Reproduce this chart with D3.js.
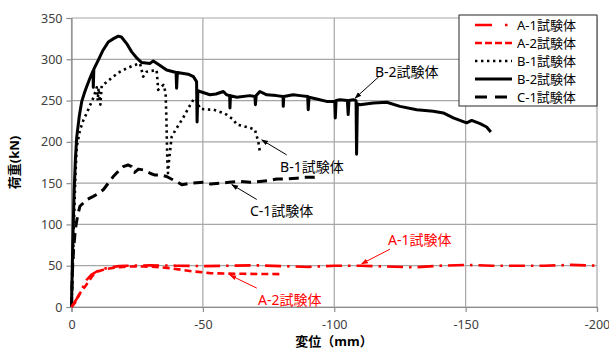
<!DOCTYPE html>
<html>
<head>
<meta charset="utf-8">
<script src="https://cdn.jsdelivr.net/npm/d3@7"></script>
<style>
body { margin:0; background:#fff; }
svg { font-family: "Noto Sans", "Noto Sans CJK JP", sans-serif; }
</style>
</head>
<body>
<svg id="chart" width="609" height="354"></svg>
<script>
// 荷重-変位 data [変位 mm, 荷重 kN]
var seriesA1 = [[0,0],[-1,5],[-2,10],[-3.2,17],[-4.5,25],[-5.8,33],[-7.5,39],[-9.6,43],[-12,46],[-14.7,48],[-18,49.5],[-21,50],[-30,50.5],[-40,50],[-50,49.5],[-60,50],[-70,50.5],[-80,49.5],[-90,48.5],[-100,50],[-110,50],[-120,49],[-130,48],[-140,50],[-150,51],[-160,50],[-170,50],[-180,50],[-190,51],[-200,50]];
var seriesA2 = [[0,0],[-1.3,5],[-2.5,12],[-3.5,18],[-5,24],[-6.5,31],[-8.3,39],[-10,43],[-12.1,45],[-15,47],[-18.5,48.3],[-22,49],[-27.3,49],[-32,48.5],[-37.5,47],[-42,45],[-46.4,43],[-50,42],[-52.7,41],[-58,40.5],[-65.4,40.2],[-72,40],[-80.6,39.8]];
var seriesB1 = [[0,0],[-0.5,50],[-1,110],[-1.5,160],[-2,194],[-3.2,214],[-4.5,226],[-5.8,235],[-7.7,249],[-8.5,255],[-9.6,266],[-10,250],[-10.3,265],[-11,245],[-11.5,268],[-12.1,269],[-14,274],[-15.9,279],[-18.5,285],[-21,289],[-24,293],[-26.1,295],[-27.3,279],[-28.6,285],[-30.5,286],[-32.4,287],[-33,263],[-34,266],[-35,269],[-35.8,260],[-36.1,230],[-36.3,200],[-36.5,175],[-36.7,162],[-37.2,180],[-38.1,206],[-39.5,214],[-41.3,223],[-43,232],[-44.5,241],[-46.4,251],[-47.5,252],[-48.9,240],[-52.7,239],[-54,239],[-57.8,235],[-59,233],[-61.6,227],[-62.9,221],[-65.4,219],[-66.7,218],[-69.8,215],[-71.1,200],[-71.7,188]];
var seriesB2 = [[0,0],[-0.5,80],[-1,140],[-1.5,180],[-2,206],[-3,232],[-3.9,249],[-5,260],[-5.8,267],[-7,277],[-8.2,286],[-8.3,266],[-8.5,288],[-10.2,299],[-12,311],[-14,321],[-16,325],[-17.8,328],[-19,327],[-21,319],[-22.9,309],[-25,301],[-26.7,296],[-29.9,295],[-31.1,298],[-33,294],[-36.2,287],[-39.8,284],[-40,265],[-40.3,284],[-44.4,282],[-46.4,279],[-47.6,273],[-47.8,224],[-48.1,262],[-48.9,261],[-52.7,257],[-55,258],[-57.8,261],[-59,257],[-60.2,256],[-60.3,241],[-60.5,256],[-62.9,254],[-67.9,256],[-69.8,255],[-70,245],[-70.3,256],[-71.7,261],[-74.3,257],[-78,256],[-80.5,255],[-80.6,243],[-80.8,255],[-84.4,257],[-87,256],[-89.9,255],[-90.1,239],[-90.4,254],[-93.3,252],[-97.1,249],[-100.2,249],[-100.4,229],[-100.7,250],[-102.2,251],[-105,250],[-105.3,233],[-105.6,250],[-107.2,251],[-108.3,250],[-108.5,185],[-108.8,246],[-109.8,245],[-114.9,247],[-120,248],[-125,243],[-131.4,239],[-137.7,237],[-141.5,235],[-145.3,229],[-150.4,223],[-152.3,226],[-155.5,222],[-158,218],[-159.6,212]];
var seriesC1 = [[0,0],[-0.3,40],[-0.8,70],[-1.5,95],[-2.3,110],[-3.2,122],[-5.8,130],[-8.3,134],[-10,137],[-12.1,142],[-14,150],[-15.9,158],[-18,165],[-19.7,170],[-21.5,172],[-22.9,170],[-24,163],[-25.5,167],[-27.3,166],[-29.9,162],[-31.5,160],[-33.7,160],[-36.2,158],[-38,155],[-40,152],[-42,148],[-45.1,150],[-50.2,151],[-53,149],[-56.5,150],[-60,151],[-64.1,152],[-68,151],[-71.7,152],[-75,153],[-78.1,155],[-82,155],[-85.7,156],[-89,157],[-92,157],[-94.6,158]];

var xTicks = [0, -50, -100, -150, -200];
var yTicks = [0, 50, 100, 150, 200, 250, 300, 350];
var legendNames = ["A-1試験体", "A-2試験体", "B-1試験体", "B-2試験体", "C-1試験体"];

// ラベル: [text, textX, textY, arrowFromX, arrowFromY, arrowToX, arrowToY] (data units)
var notes = [
    ["B-2試験体", -115.5, 285, -117, 279, -107.9, 252.8, "#000"],
    ["B-1試験体", -79.4, 170, -81.9, 184.2, -72.4, 202.4, "#000"],
    ["C-1試験体", -67.9, 115.6, -70.5, 130.2, -61, 148.3, "#000"],
    ["A-1試験体", -120.5, 81.3, -121.2, 70, -110.4, 52.3, "#ff0000"],
    ["A-2試験体", -71, 8.7, -70.5, 22.9, -60.3, 38.6, "#ff0000"]
];

var svg = d3.select("#chart");
var padding = {top:18, right:12, bottom:47, left:71.5};
var chartArea = {
    "width": 609 - padding.left - padding.right,
    "height": 354 - padding.top - padding.bottom
};

var xScale = d3.scaleLinear().domain([0, -200]).range([0, chartArea.width]);
var yScale = d3.scaleLinear().domain([0, 350]).range([chartArea.height, 0]);

var g = svg.append("g").attr("transform", "translate(" + padding.left + "," + padding.top + ")");

// grid
g.append("g").selectAll("line").data(yTicks).enter().append("line")
    .attr("x1", 0).attr("x2", chartArea.width)
    .attr("y1", d => yScale(d)).attr("y2", d => yScale(d))
    .attr("stroke", "#a6a6a6").attr("stroke-width", 1.2);
g.append("g").selectAll("line").data(xTicks).enter().append("line")
    .attr("y1", 0).attr("y2", chartArea.height)
    .attr("x1", d => xScale(d)).attr("x2", d => xScale(d))
    .attr("stroke", "#a6a6a6").attr("stroke-width", 1.2);

var yAxis = g.append("g").call(d3.axisLeft(yScale).tickValues(yTicks).tickSize(5).tickPadding(4).tickFormat(d => String(d)));
var xAxis = g.append("g").attr("transform", "translate(0," + chartArea.height + ")")
    .call(d3.axisBottom(xScale).tickValues(xTicks).tickSize(5).tickPadding(8).tickFormat(d => String(d)));
[xAxis, yAxis].forEach(a => {
    a.select(".domain").attr("stroke", "#8c8c8c").attr("stroke-width", 1.2);
    a.selectAll(".tick line").attr("stroke", "#8c8c8c").attr("stroke-width", 1.2);
    a.selectAll("text").attr("fill", "#404040").style("font-size", "12.5px").style("font-family", "'Noto Sans', sans-serif");
});

var line = d3.line().x(d => xScale(d[0])).y(d => yScale(d[1]));

var styles = [
    {data: seriesA1, color:"#ff0000", width:2.6, dash:"16,6,2.5,6"},
    {data: seriesA2, color:"#ff0000", width:2.6, dash:"7,4"},
    {data: seriesB1, color:"#000", width:2.6, dash:"2.4,3.6"},
    {data: seriesB2, color:"#000", width:3, dash:null},
    {data: seriesC1, color:"#000", width:3, dash:"10,6"}
];

var plot = g.append("g");
[4, 2, 3, 1, 0].forEach(i => {
    var s = styles[i];
    plot.append("path").datum(s.data)
        .attr("d", line)
        .attr("fill", "none")
        .attr("stroke", s.color)
        .attr("stroke-width", s.width)
        .attr("stroke-linejoin", "round")
        .attr("stroke-dasharray", s.dash);
});

// arrows
var defs = svg.append("defs");
["#000", "#ff0000"].forEach((c, i) => {
    defs.append("marker").attr("id", "arr" + i)
        .attr("viewBox", "0 0 10 10").attr("refX", 9).attr("refY", 5)
        .attr("markerWidth", 7).attr("markerHeight", 7).attr("orient", "auto")
        .append("path").attr("d", "M0,1.5L10,5L0,8.5Z").attr("fill", c);
});

notes.forEach(n => {
    g.append("line")
        .attr("x1", xScale(n[3])).attr("y1", yScale(n[4]))
        .attr("x2", xScale(n[5])).attr("y2", yScale(n[6]))
        .attr("stroke", n[7]).attr("stroke-width", 1)
        .attr("marker-end", "url(#arr" + (n[7] == "#000" ? 0 : 1) + ")");
    g.append("text")
        .attr("x", xScale(n[1])).attr("y", yScale(n[2]))
        .attr("dy", "0.35em")
        .attr("fill", n[7] == "#000" ? "#000" : "#ff0000")
        .style("font-size", "14px")
        .text(n[0]);
});

// legend
var lg = svg.append("g").attr("transform", "translate(459,15)");
lg.append("rect").attr("width", 138).attr("height", 91)
    .attr("fill", "#fff").attr("stroke", "#262626").attr("stroke-width", 1);
legendNames.forEach((name, i) => {
    var s = styles[i];
    var yy = 10 + i * 18;
    lg.append("line").attr("x1", 16).attr("x2", 53).attr("y1", yy).attr("y2", yy)
        .attr("stroke", s.color).attr("stroke-width", s.width)
        .attr("stroke-dasharray", i == 0 ? "17,13,2.5,6" : (i == 1 ? "7,3" : (i == 4 ? "12,8" : s.dash)));
    lg.append("text").attr("x", 58).attr("y", yy).attr("dy", "0.35em")
        .style("font-size", "13px").attr("fill", "#000").text(name);
});

// axis titles
svg.append("text")
    .attr("transform", "translate(19," + (padding.top + chartArea.height / 2) + ") rotate(-90)")
    .attr("text-anchor", "middle")
    .style("font-size", "13px").style("font-weight", "bold")
    .text("荷重(kN)");
svg.append("text")
    .attr("x", 334).attr("y", 346)
    .attr("text-anchor", "middle")
    .style("font-size", "13px").style("font-weight", "bold")
    .text("変位（mm）");
</script>
</body>
</html>
